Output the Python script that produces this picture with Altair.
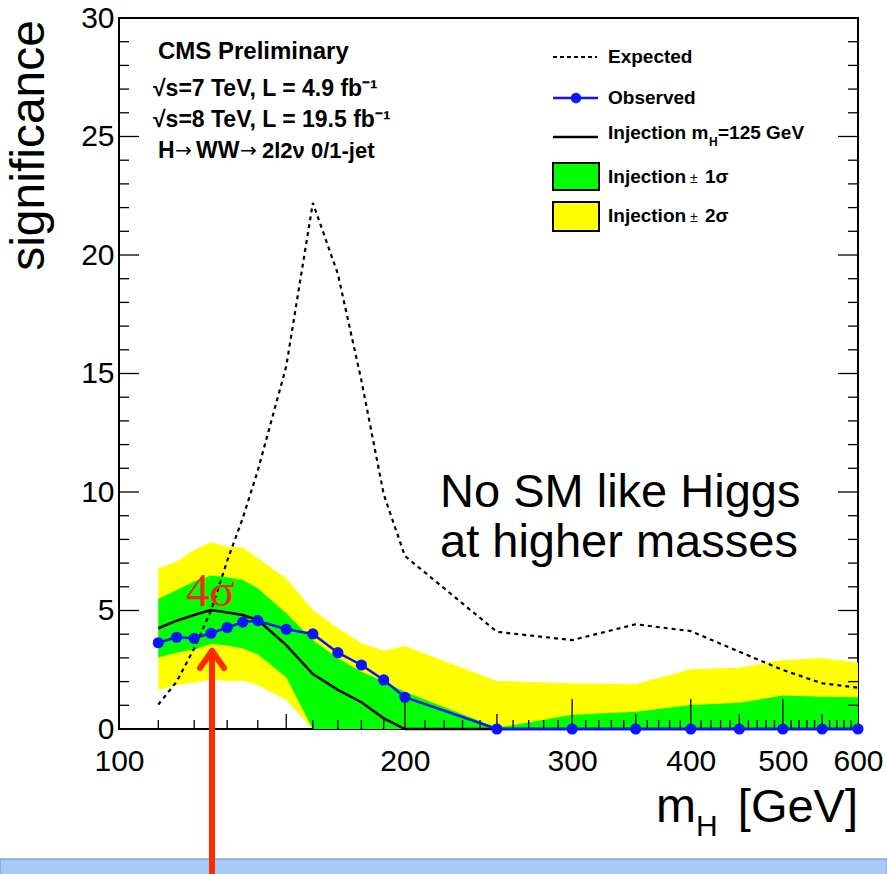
import math
import altair as alt
import pandas as pd

# ---------------- data ----------------
mass = [110, 115, 120, 125, 130, 135, 140, 150, 160, 170, 180, 190, 200,
        250, 300, 350, 400, 450, 500, 550, 600]
observed = [3.64, 3.87, 3.83, 4.04, 4.28, 4.51, 4.57, 4.21, 4.01, 3.22, 2.70, 2.07, 1.34,
            0, 0, 0, 0, 0, 0, 0, 0]
injection = [4.25, 4.57, 4.81, 5.02, 4.92, 4.81, 4.60, 3.54, 2.32, 1.65, 1.13, 0.45, 0,
             0, 0, 0, 0, 0, 0, 0, 0]
expected = [1.03, 2.0, 3.4, 5.0, 7.1, 8.9, 10.9, 15.3, 22.2, 19.2, 14.7, 9.9, 7.3,
            4.1, 3.75, 4.42, 4.13, 3.26, 2.49, 1.93, 1.74]
inj_1s_lo = [3.02, 3.22, 3.35, 3.59, 3.52, 3.40, 3.15, 2.18, 0, 0, 0, 0, 0,
             0, 0, 0, 0, 0, 0, 0, 0]
inj_1s_hi = [5.49, 5.86, 6.22, 6.48, 6.40, 6.29, 5.94, 4.88, 3.75, 2.98, 2.42, 2.00, 1.57,
             0.05, 0.60, 0.73, 1.01, 1.11, 1.41, 1.36, 1.34]
inj_2s_lo = [1.65, 1.86, 1.95, 2.10, 2.02, 2.04, 1.85, 1.22, 0, 0, 0, 0, 0,
             0, 0, 0, 0, 0, 0, 0, 0]
inj_2s_hi = [6.78, 7.06, 7.55, 7.88, 7.69, 7.66, 7.20, 6.36, 5.02, 4.25, 3.62, 3.30, 3.50,
             2.03, 1.93, 1.90, 2.52, 2.60, 2.91, 2.98, 2.80]

x_labels = [100, 200, 300, 400, 500, 600]
y_labels = [0, 5, 10, 15, 20, 25, 30]
x_small_ticks = [m for m in range(110, 600, 10) if m % 50 != 0]
x_mid_ticks = [150, 250, 350, 450, 550]
x_big_ticks = [200, 300, 400, 500]
y_major_ticks = [5, 10, 15, 20, 25]
y_minor_ticks = [v for v in range(1, 30) if v % 5 != 0]

# ---------------- layout ----------------
W, H = 739, 711
XMIN, XMAX, YMAX = 100, 600, 30
PX_PER_DEC = W / math.log10(XMAX / XMIN)
FONT = "Liberation Sans"

xs = alt.Scale(type="log", domain=[XMIN, XMAX], nice=False)
ys = alt.Scale(domain=[0, YMAX], nice=False)

df = pd.DataFrame({"m": mass, "obs": observed, "inj": injection, "exp": expected,
                   "g_lo": inj_1s_lo, "g_hi": inj_1s_hi, "y_lo": inj_2s_lo, "y_hi": inj_2s_hi})

X = alt.X("m:Q", scale=xs, title=None,
          axis=alt.Axis(values=x_labels, format="d", ticks=False, tickSize=0, domain=False,
                        grid=False, labelFontSize=30, labelFont=FONT, labelColor="black",
                        labelPadding=17, labelFlush=False))
Yax = alt.Axis(values=y_labels, ticks=False, tickSize=0, domain=False, grid=False,
               labelFontSize=30, labelFont=FONT, labelColor="black", labelPadding=5)

band2 = alt.Chart(df).mark_area(color="#ffff00", opacity=1).encode(
    x=X, y=alt.Y("y_lo:Q", scale=ys, title=None, axis=Yax), y2="y_hi:Q")
band1 = alt.Chart(df).mark_area(color="#00ff00", opacity=1).encode(
    x="m:Q", y="g_lo:Q", y2="g_hi:Q")

def px_to_y(p):
    return p * YMAX / H

def px_to_logx(base, p, sign=1):
    return base * 10 ** (sign * p / PX_PER_DEC)

tick_rows = ([{"m": m, "z": 0, "t": px_to_y(9)} for m in x_small_ticks] +
             [{"m": m, "z": 0, "t": px_to_y(15)} for m in x_mid_ticks] +
             [{"m": m, "z": 0, "t": px_to_y(30)} for m in x_big_ticks])
xticks = alt.Chart(pd.DataFrame(tick_rows)).mark_rule(color="black", strokeWidth=1.3).encode(
    x="m:Q", y="z:Q", y2="t:Q")

ytick_rows = []
for v in y_major_ticks + y_minor_ticks:
    L = 20 if v in y_major_ticks else 10
    ytick_rows.append({"v": v, "x1": XMIN, "x2": px_to_logx(XMIN, L)})
    ytick_rows.append({"v": v, "x1": px_to_logx(XMAX, L, -1), "x2": XMAX})
yticks = alt.Chart(pd.DataFrame(ytick_rows)).mark_rule(color="black", strokeWidth=1.3).encode(
    x="x1:Q", x2="x2:Q", y="v:Q")

exp_line = alt.Chart(df).mark_line(color="black", strokeWidth=2.2, strokeDash=[4, 4]).encode(
    x="m:Q", y="exp:Q")
inj_line = alt.Chart(df).mark_line(color="black", strokeWidth=2.5).encode(x="m:Q", y="inj:Q")
obs_line = alt.Chart(df).mark_line(color="#0a14ff", strokeWidth=2.5, clip=False).encode(
    x="m:Q", y="obs:Q")
obs_pts = alt.Chart(df).mark_circle(color="#0a14ff", size=125, opacity=1, clip=False).encode(
    x="m:Q", y="obs:Q")

one = alt.Data(values=[{"a": 1}])

def text(s, x, y, size, weight="normal", align="left", color="black", font=FONT,
         angle=0, baseline="alphabetic"):
    kw = dict(text=s, fontSize=size, fontWeight=weight, align=align, color=color,
              font=font, baseline=baseline)
    if angle:
        kw["angle"] = angle
    return alt.Chart(one).mark_text(**kw).encode(x=alt.value(x), y=alt.value(y))

def rule(x1, y1, x2, y2, color="black", width=2, dash=None, cap="butt"):
    kw = dict(color=color, strokeWidth=width, strokeCap=cap)
    if dash:
        kw["strokeDash"] = dash
    return alt.Chart(one).mark_rule(**kw).encode(
        x=alt.value(x1), y=alt.value(y1), x2=alt.value(x2), y2=alt.value(y2))

def box(x1, y1, x2, y2, fill, stroke="black", width=2):
    return alt.Chart(one).mark_rect(color=fill, stroke=stroke, strokeWidth=width).encode(
        x=alt.value(x1), y=alt.value(y1), x2=alt.value(x2), y2=alt.value(y2))

annots = [
    # header
    text("CMS Preliminary", 39, 41, 24, "bold"),
    text("\u221As=7 TeV, L = 4.9 fb\u207B\u00B9", 34, 78, 23, "bold"),
    text("\u221As=8 TeV, L = 19.5 fb\u207B\u00B9", 34, 109, 23, "bold"),
    text("H", 39, 140, 23, "bold"),
    text("\u2192", 56, 139, 20, font="DejaVu Sans"),
    text("WW", 77, 140, 23, "bold"),
    text("\u2192", 121, 139, 20, font="DejaVu Sans"),
    text("2l2\u03BD 0/1-jet", 143, 140, 22, "bold"),
    # legend
    rule(434, 39, 478, 39, width=2, dash=[4, 3]),
    text("Expected", 489, 45, 19, "bold"),
    rule(434, 80, 479, 80, color="#0a14ff", width=2.5),
    alt.Chart(one).mark_circle(color="#0a14ff", size=110, opacity=1).encode(
        x=alt.value(457), y=alt.value(80)),
    text("Observed", 489, 86, 19, "bold"),
    rule(434, 119, 479, 119, width=2.5),
    text("Injection m", 489, 121, 19, "bold"),
    text("H", 590, 128, 12, "bold"),
    text("=125 GeV", 599, 121, 19, "bold"),
    box(434, 145, 480, 172, "#00ff00"),
    text("Injection", 489, 165, 19, "bold"),
    text("\u00B1", 571, 165, 14),
    text("1\u03C3", 586, 165, 19, "bold"),
    box(434, 184, 480, 213, "#ffff00"),
    text("Injection", 489, 204, 19, "bold"),
    text("\u00B1", 571, 204, 14),
    text("2\u03C3", 586, 204, 19, "bold"),
    # slide annotations
    text("No SM like Higgs", 321, 489, 47),
    text("at higher masses", 321, 539, 47),
    text("4\u03C3", 67, 588, 47, color="#ee2a1c", font="Liberation Serif"),
    # axis titles
    text("significance", -89, 2, 48, align="right", angle=270, baseline="middle"),
    text("m", 537, 804, 48),
    text("H", 577, 818, 30),
    text("[GeV]", 739, 804, 47, align="right"),
    # bottom slide bar
    box(-119, 841, 768, 860, "#a7c9f6", stroke="#7fa6dc", width=1.5),
    # red arrow
    rule(93, 636, 93, 860, color="#ff2a00", width=6),
    rule(93, 633, 81, 650, color="#ff2a00", width=6, cap="round"),
    rule(93, 633, 105, 650, color="#ff2a00", width=6, cap="round"),
]

chart = alt.layer(band2, band1, xticks, yticks, exp_line, inj_line, obs_line, obs_pts,
                  *annots).properties(
    width=W, height=H,
    autosize=alt.AutoSizeParams(type="none"),
    padding={"left": 119, "top": 18, "right": 887 - 119 - W, "bottom": 874 - 18 - H},
    background="white",
).configure_view(stroke="black", strokeWidth=2)

chart.save("out.html", embed_options={"renderer": "svg", "actions": False})
